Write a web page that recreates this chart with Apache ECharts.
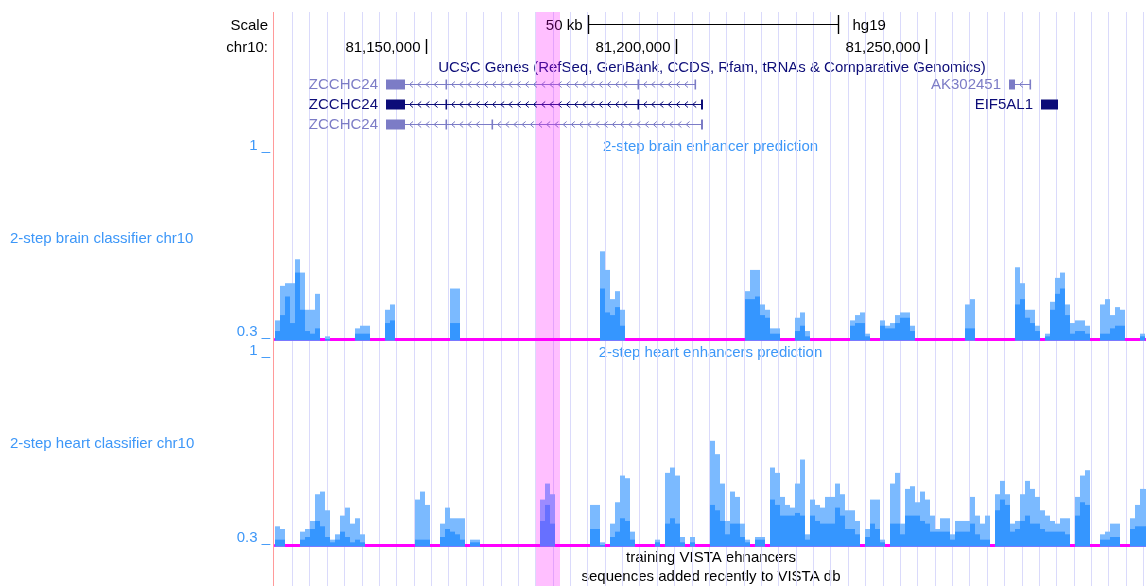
<!DOCTYPE html>
<html><head><meta charset="utf-8">
<script src="https://cdn.jsdelivr.net/npm/echarts@6/dist/echarts.min.js"></script>
<style>html,body{margin:0;padding:0;background:#fff}#c{width:1146px;height:586px}</style>
</head><body><div id="c"></div>
<script>
// ---- view / bins ----
const binStart = 81119800;
const binSize = 1000;
const viewEnd = 81294000;

// ---- 2-step brain classifier (bin index, max, mean) ----
const brainBins = [0,1,2,3,4,5,6,7,8,10,16,17,18,22,23,35,36,65,66,67,68,69,94,95,96,97,98,99,100,104,105,106,115,116,117,118,121,122,123,124,125,126,127,138,139,148,149,150,151,152,154,155,156,157,158,159,160,161,162,165,166,167,168,169,173];
const brainMax = [0.37,0.50,0.51,0.51,0.60,0.55,0.41,0.41,0.47,0.31,0.34,0.35,0.35,0.41,0.43,0.49,0.49,0.63,0.56,0.45,0.48,0.41,0.48,0.56,0.56,0.43,0.41,0.34,0.34,0.38,0.40,0.33,0.37,0.39,0.40,0.32,0.37,0.35,0.36,0.39,0.40,0.40,0.35,0.43,0.45,0.57,0.51,0.41,0.41,0.35,0.32,0.44,0.53,0.55,0.43,0.36,0.37,0.37,0.35,0.43,0.45,0.39,0.42,0.41,0.32];
const brainMean = [0.33,0.39,0.46,0.36,0.55,0.41,0.33,0.32,0.34,0.30,0.32,0.32,0.32,0.36,0.37,0.36,0.36,0.49,0.40,0.39,0.42,0.35,0.45,0.45,0.46,0.39,0.38,0.32,0.32,0.33,0.35,0.31,0.35,0.36,0.36,0.31,0.35,0.34,0.34,0.36,0.38,0.38,0.33,0.34,0.34,0.43,0.45,0.38,0.36,0.33,0.31,0.41,0.47,0.49,0.39,0.32,0.33,0.33,0.32,0.32,0.32,0.34,0.35,0.35,0.31];

// ---- 2-step heart classifier (bin index, max, mean) ----
const heartBins = [0,1,5,6,7,8,9,10,11,12,13,14,15,16,17,28,29,30,33,34,35,36,37,39,40,53,54,55,63,64,65,67,68,69,70,71,76,78,79,80,81,83,87,88,89,90,91,92,93,94,96,97,99,100,101,102,103,104,105,106,107,108,109,110,111,112,113,114,115,116,118,119,120,121,123,124,125,126,127,128,129,130,131,132,133,134,135,136,137,138,139,140,141,142,144,145,146,147,148,149,150,151,152,153,154,155,156,157,158,160,161,162,165,166,167,168,171,172,173,174];
const heartMax = [0.37,0.36,0.35,0.36,0.39,0.49,0.50,0.43,0.32,0.34,0.41,0.44,0.38,0.40,0.34,0.47,0.50,0.45,0.38,0.44,0.40,0.40,0.40,0.32,0.32,0.47,0.53,0.49,0.45,0.45,0.31,0.38,0.46,0.56,0.55,0.35,0.32,0.57,0.59,0.56,0.33,0.33,0.69,0.64,0.53,0.39,0.50,0.48,0.38,0.32,0.33,0.33,0.59,0.57,0.48,0.45,0.44,0.53,0.62,0.34,0.47,0.45,0.44,0.48,0.48,0.53,0.49,0.43,0.43,0.39,0.36,0.47,0.47,0.32,0.53,0.57,0.38,0.51,0.52,0.46,0.50,0.47,0.41,0.36,0.40,0.40,0.34,0.39,0.39,0.39,0.48,0.41,0.38,0.41,0.49,0.54,0.49,0.38,0.39,0.49,0.54,0.51,0.48,0.43,0.41,0.39,0.38,0.40,0.40,0.48,0.56,0.58,0.34,0.35,0.38,0.38,0.40,0.45,0.51,0.51];
const heartMean = [0.32,0.32,0.32,0.33,0.36,0.39,0.37,0.33,0.31,0.32,0.35,0.33,0.31,0.32,0.31,0.32,0.32,0.32,0.33,0.36,0.35,0.34,0.32,0.31,0.31,0.39,0.45,0.38,0.36,0.36,0.30,0.33,0.35,0.40,0.39,0.32,0.31,0.38,0.40,0.38,0.31,0.31,0.45,0.43,0.39,0.34,0.38,0.38,0.33,0.31,0.32,0.32,0.47,0.45,0.41,0.41,0.41,0.42,0.41,0.32,0.41,0.39,0.38,0.38,0.38,0.44,0.41,0.36,0.36,0.34,0.33,0.38,0.36,0.31,0.38,0.38,0.34,0.41,0.41,0.41,0.39,0.38,0.35,0.35,0.35,0.35,0.32,0.35,0.35,0.35,0.38,0.34,0.32,0.32,0.43,0.47,0.45,0.35,0.36,0.39,0.41,0.38,0.38,0.36,0.35,0.35,0.35,0.35,0.34,0.41,0.46,0.45,0.32,0.32,0.33,0.33,0.36,0.37,0.37,0.37];

// ---- ruler ----
const rulerTicks = [81150000, 81200000, 81250000];
const rulerLabels = ['81,150,000', '81,200,000', '81,250,000'];
const scaleBar = [81182300, 81232300];
const scaleLabel = '50 kb';
const assembly = 'hg19';
const highlightRange = [81172000, 81176800];

// ---- UCSC genes ----
const geneNames = ['ZCCHC24', 'ZCCHC24', 'ZCCHC24', 'AK302451', 'EIF5AL1'];
const geneRows = [1, 2, 3, 1, 2];
const geneStarts = [81142000, 81142000, 81142000, 81266600, 81273000];
const geneEnds = [81204000, 81205400, 81205400, 81271000, 81276400];
const geneExons = [
  [[81142000,81145800],[81153900,81154200],[81192300,81192600],[81203700,81204000]],
  [[81142000,81145800],[81153900,81154200],[81192300,81192600],[81205000,81205400]],
  [[81142000,81145800],[81153900,81154200],[81163100,81163400],[81205000,81205400]],
  [[81266600,81267800],[81270700,81271000]],
  [[81273000,81276400]]
];
const geneDark = [false, true, false, false, true];

// ---- styles ----
const FONT = '15px "Liberation Sans", Arial, Helvetica, sans-serif';
const LIGHT = '#7bbaff';
const DARK = '#3596ff';
const LABEL = '#3d97f8';
const GENE_LIGHT = '#7c7cc6';
const GENE_DARK = '#0c0c78';
const GRID_L = 275;

const chart = echarts.init(document.getElementById('c'), null, {renderer: 'canvas'});

function barRenderer(light, dark) {
  return function (params, api) {
    const s = api.value(0), e = api.value(1), mx = api.value(2), mn = api.value(3);
    const cs = params.coordSys;
    const pTop = api.coord([s, mx]);
    const pEnd = api.coord([e, 0.3]);
    const pMean = api.coord([s, mn]);
    const x0 = Math.max(pTop[0], cs.x), x1 = Math.min(pEnd[0], cs.x + cs.width);
    if (x1 <= x0) return null;
    const base = pEnd[1] + 1.5;
    return {type: 'group', children: [
      {type: 'rect', shape: {x: x0, y: pTop[1], width: x1 - x0, height: base - pTop[1]}, style: {fill: light}},
      {type: 'rect', shape: {x: x0, y: pMean[1], width: x1 - x0, height: base - pMean[1]}, style: {fill: dark}}
    ]};
  };
}

function renderGene(params, api) {
  const idx = api.value(3);
  const row = api.value(2);
  const color = geneDark[idx] ? GENE_DARK : GENE_LIGHT;
  const ps = api.coord([api.value(0), row]);
  const pe = api.coord([api.value(1), row]);
  const cy = Math.round(ps[1]) - 0.5;
  const children = [];
  children.push({type: 'line', shape: {x1: ps[0], y1: cy, x2: pe[0], y2: cy}, style: {stroke: color, lineWidth: 1}});
  const exPx = geneExons[idx].map(ex => [api.coord([ex[0], row])[0], api.coord([ex[1], row])[0]]);
  exPx.forEach(ex => {
    const w = Math.max(ex[1] - ex[0], 1.6);
    children.push({type: 'rect', shape: {x: ex[0], y: cy - 5, width: w, height: 10}, style: {fill: color}});
  });
  for (let k = 0; k < exPx.length - 1; k++) {
    const a = exPx[k][1] + 4, b = exPx[k + 1][0] - 4;
    for (let x = a + 2; x <= b - 2; x += 8.2) {
      children.push({type: 'polyline', shape: {points: [[x + 2, cy - 3], [x - 1.5, cy], [x + 2, cy + 3]]},
        style: {stroke: color, lineWidth: 1, fill: null}});
    }
  }
  children.push({type: 'text', style: {text: geneNames[idx], x: ps[0] - 8, y: cy + 0.5, align: 'right', verticalAlign: 'middle', font: FONT, fill: color}});
  return {type: 'group', children: children};
}

function renderRuler(params, api) {
  const x = Math.round(api.coord([api.value(0), 0])[0]) + 0.5;
  const i = api.value(1);
  return {type: 'group', children: [
    {type: 'line', shape: {x1: x, y1: 39, x2: x, y2: 54}, style: {stroke: '#000', lineWidth: 1.4}},
    {type: 'text', style: {text: rulerLabels[i], x: x - 6, y: 47.5, align: 'right', verticalAlign: 'middle', font: FONT, fill: '#000'}}
  ]};
}

function renderScale(params, api) {
  const x0 = Math.round(api.coord([api.value(0), 0])[0]) + 0.5;
  const x1 = Math.round(api.coord([api.value(1), 0])[0]) + 0.5;
  return {type: 'group', children: [
    {type: 'line', shape: {x1: x0, y1: 24.5, x2: x1, y2: 24.5}, style: {stroke: '#000', lineWidth: 1}},
    {type: 'line', shape: {x1: x0, y1: 15, x2: x0, y2: 34}, style: {stroke: '#000', lineWidth: 1.4}},
    {type: 'line', shape: {x1: x1, y1: 15, x2: x1, y2: 34}, style: {stroke: '#000', lineWidth: 1.4}},
    {type: 'text', style: {text: scaleLabel, x: x0 - 6, y: 25.5, align: 'right', verticalAlign: 'middle', font: FONT, fill: '#000'}},
    {type: 'text', style: {text: assembly, x: x1 + 14, y: 25.5, align: 'left', verticalAlign: 'middle', font: FONT, fill: '#000'}}
  ]};
}

function renderHighlight(params, api) {
  const cs = params.coordSys;
  const x0 = api.coord([api.value(0), 0])[0];
  const x1 = api.coord([api.value(1), 0])[0];
  return {type: 'rect', shape: {x: x0, y: cs.y, width: x1 - x0, height: cs.height + 2},
    style: {fill: 'rgba(255,0,255,0.25)'}};
}

const trackY = () => ({
  type: 'value', min: 0.3, max: 1, interval: 0.1,
  axisLine: {show: false}, axisTick: {show: false}, splitLine: {show: false},
  axisLabel: {
    show: true, margin: 5, color: LABEL, fontSize: 15, fontFamily: '"Liberation Sans", Arial, sans-serif',
    verticalAlign: 'bottom', showMinLabel: true, showMaxLabel: true,
    formatter: v => Math.abs(v - 1) < 1e-6 ? '1 _' : (Math.abs(v - 0.3) < 1e-6 ? '0.3 _' : '')
  }
});

const hiddenX = (grid, extra) => Object.assign({
  type: 'value', gridIndex: grid, min: binStart, max: viewEnd,
  axisLine: {show: false}, axisTick: {show: false}, axisLabel: {show: false}, splitLine: {show: false}
}, extra || {});

const toBars = (bins, mx, mn) => bins.map((b, i) => [binStart + b * binSize, binStart + (b + 1) * binSize, mx[i], mn[i]]);

const option = {
  animation: false,
  backgroundColor: '#fff',
  grid: [
    {left: GRID_L, right: 0, top: 12, bottom: 0},
    {left: GRID_L, right: 0, top: 75, height: 60},
    {left: GRID_L, right: 0, top: 153, height: 186},
    {left: GRID_L, right: 0, top: 358, height: 187}
  ],
  xAxis: [
    hiddenX(0),
    {type: 'value', gridIndex: 0, position: 'top', min: 0, max: 871 / 17.367, interval: 1,
      axisLine: {show: false}, axisTick: {show: false}, axisLabel: {show: false},
      splitLine: {show: true, showMinLine: false, showMaxLine: false, lineStyle: {color: '#dadafb', width: 1}}},
    hiddenX(1),
    hiddenX(2, {axisLine: {show: true, onZero: false, lineStyle: {color: '#ff00ff', width: 3}}}),
    hiddenX(3, {axisLine: {show: true, onZero: false, lineStyle: {color: '#ff00ff', width: 3}}})
  ],
  yAxis: [
    {type: 'value', gridIndex: 0, min: 0, max: 1, show: false},
    {type: 'value', gridIndex: 1, min: 0.5, max: 3.5, inverse: true, show: false},
    Object.assign({gridIndex: 2}, trackY()),
    Object.assign({gridIndex: 3}, trackY())
  ],
  series: [
    {type: 'custom', name: 'ruler', xAxisIndex: 0, yAxisIndex: 0, z: 3,
      data: rulerTicks.map((t, i) => [t, i]), renderItem: renderRuler},
    {type: 'custom', name: 'scale', xAxisIndex: 0, yAxisIndex: 0, z: 3,
      data: [[scaleBar[0], scaleBar[1]]], renderItem: renderScale},
    {type: 'custom', name: 'UCSC Genes', xAxisIndex: 2, yAxisIndex: 1, z: 3,
      data: geneNames.map((n, i) => [geneStarts[i], geneEnds[i], geneRows[i], i]), renderItem: renderGene},
    {type: 'custom', name: 'brain', xAxisIndex: 3, yAxisIndex: 2, z: 4,
      data: toBars(brainBins, brainMax, brainMean), renderItem: barRenderer(LIGHT, DARK)},
    {type: 'custom', name: 'heart', xAxisIndex: 4, yAxisIndex: 3, z: 4,
      data: toBars(heartBins, heartMax, heartMean), renderItem: barRenderer(LIGHT, DARK)},
    {type: 'custom', name: 'highlight', xAxisIndex: 0, yAxisIndex: 0, z: 10,
      data: [[highlightRange[0], highlightRange[1]]], renderItem: renderHighlight}
  ],
  graphic: [
    {type: 'line', z: 50, shape: {x1: 273.5, y1: 12, x2: 273.5, y2: 586}, style: {stroke: '#ff9a9a', lineWidth: 1}},
    {type: 'text', style: {text: 'Scale', x: 268, y: 25.5, align: 'right', verticalAlign: 'middle', font: FONT, fill: '#000'}},
    {type: 'text', style: {text: 'chr10:', x: 268, y: 47.5, align: 'right', verticalAlign: 'middle', font: FONT, fill: '#000'}},
    {type: 'text', style: {text: 'UCSC Genes (RefSeq, GenBank, CCDS, Rfam, tRNAs & Comparative Genomics)', x: 712, y: 68, align: 'center', verticalAlign: 'middle', font: FONT, fill: GENE_DARK}},
    {type: 'text', style: {text: '2-step brain enhancer prediction', x: 710.5, y: 147, align: 'center', verticalAlign: 'middle', font: FONT, fill: LABEL}},
    {type: 'text', style: {text: '2-step brain classifier chr10', x: 10, y: 239, align: 'left', verticalAlign: 'middle', font: FONT, fill: LABEL}},
    {type: 'text', style: {text: '2-step heart enhancers prediction', x: 710.5, y: 353, align: 'center', verticalAlign: 'middle', font: FONT, fill: LABEL}},
    {type: 'text', style: {text: '2-step heart classifier chr10', x: 10, y: 443.5, align: 'left', verticalAlign: 'middle', font: FONT, fill: LABEL}},
    {type: 'text', style: {text: 'training VISTA ehnancers', x: 711, y: 558, align: 'center', verticalAlign: 'middle', font: FONT, fill: '#000'}},
    {type: 'text', style: {text: 'sequences added recently to VISTA db', x: 711, y: 577, align: 'center', verticalAlign: 'middle', font: FONT, fill: '#000'}}
  ]
};
chart.setOption(option);
</script></body></html>
